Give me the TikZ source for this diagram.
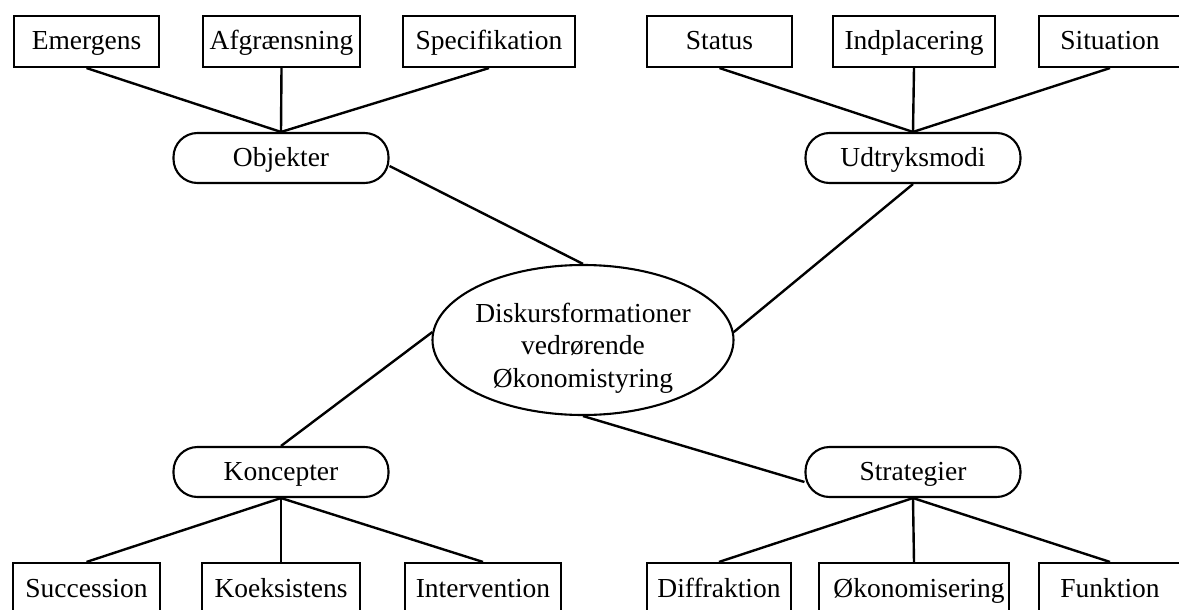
\documentclass[tikz,border=0pt]{standalone}
\usepackage{fontspec}
\setmainfont{Liberation Serif}
\usetikzlibrary{shapes.geometric,calc}
\begin{document}
\begin{tikzpicture}[x=1pt,y=-1pt,
  every node/.style={font=\fontsize{27.5}{32.5}\selectfont, inner sep=0pt},
  leaf/.style={draw, line width=2.1pt, minimum height=51pt, text height=20pt, text depth=3pt},
  hub/.style={draw, line width=2.1pt, minimum height=50pt, minimum width=215pt, rounded corners=24pt, text height=20pt, text depth=3pt},
  core/.style={draw, ellipse, line width=2.1pt, minimum width=301pt, minimum height=150pt},
  coretext/.style={align=center},
  link/.style={line width=2.4pt}]
\useasboundingbox (0,0) rectangle (1179,610);
\clip (0,0) rectangle (1179,610);
% top left
\node[leaf, minimum width=145pt] (emg) at (86.5,41.5) {Emergens};
\node[leaf, minimum width=157pt] (afg) at (281.5,41.5) {Afgrænsning};
\node[leaf, minimum width=172pt] (spe) at (489,41.5) {Specifikation};
\node[hub] (obj) at (281,158) {Objekter};
% top right
\node[leaf, minimum width=145pt] (sta) at (719.5,41.5) {Status};
\node[leaf, minimum width=162pt] (ind) at (914,41.5) {Indplacering};
\node[leaf, minimum width=142pt] (sit) at (1110,41.5) {Situation};
\node[hub] (udt) at (913,158) {Udtryksmodi};
% center
\node[core] (dis) at (583,340) {};
\node[coretext] (distext) at (583,348) {Diskursformationer\\vedrørende\\Økonomistyring};
% bottom left
\node[hub] (kon) at (281,472) {Koncepter};
\node[leaf, minimum width=147pt] (suc) at (86.5,588.5) {Succession};
\node[leaf, minimum width=158pt] (koe) at (281,588.5) {Koeksistens};
\node[leaf, minimum width=156pt] (int) at (483,588.5) {Intervention};
% bottom right
\node[hub] (str) at (913,472) {Strategier};
\node[leaf, minimum width=144pt] (dif) at (719,588.5) {Diffraktion};
\node[leaf, minimum width=190pt] (oko) at (914,588.5) {\hspace*{10pt}Økonomisering};
\node[leaf, minimum width=142pt] (fun) at (1110,588.5) {Funktion};
% connectors
\draw[link] (emg.south) -- (obj.north);
\draw[link] (afg.south) -- (obj.north);
\draw[link] (spe.south) -- (obj.north);
\draw[link] (sta.south) -- (udt.north);
\draw[link] (ind.south) -- (udt.north);
\draw[link] (sit.south) -- (udt.north);
\draw[link] (kon.south) -- (suc.north);
\draw[link] (kon.south) -- (koe.north);
\draw[link] (kon.south) -- (int.north);
\draw[link] (str.south) -- (dif.north);
\draw[link] (str.south) -- (oko.north);
\draw[link] (str.south) -- (fun.north);
\draw[link] ($(obj.east)+(0,8)$) -- (dis.north);
\draw[link] (udt.south) -- (dis.3);
\draw[link] (kon.north) -- (dis.177);
\draw[link] (dis.south) -- ($(str.west)+(0,10)$);
\end{tikzpicture}
\end{document}
